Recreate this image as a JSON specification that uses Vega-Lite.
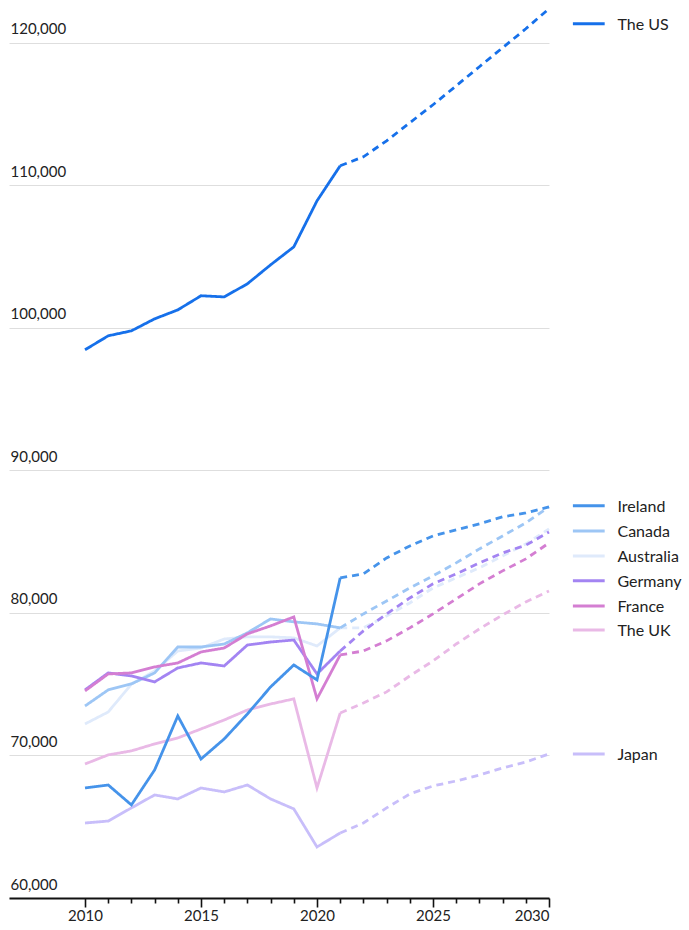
{
  "$schema": "https://vega.github.io/schema/vega-lite/v6.json",
  "width": 540,
  "height": 898,
  "autosize": {"type": "none"},
  "padding": {"left": 9, "top": 0, "right": 140, "bottom": 32},
  "config": {"view": {"stroke": null}, "font": "Lato"},
  "resolve": {"axis": {"x": "independent"}},
  "datasets": {
    "series": [
      {"c":"The US","year":2010,"v":98460,"s":"actual"},
      {"c":"The US","year":2011,"v":99440,"s":"actual"},
      {"c":"The US","year":2012,"v":99790,"s":"actual"},
      {"c":"The US","year":2013,"v":100630,"s":"actual"},
      {"c":"The US","year":2014,"v":101260,"s":"actual"},
      {"c":"The US","year":2015,"v":102250,"s":"actual"},
      {"c":"The US","year":2016,"v":102170,"s":"actual"},
      {"c":"The US","year":2017,"v":103090,"s":"actual"},
      {"c":"The US","year":2018,"v":104420,"s":"actual"},
      {"c":"The US","year":2019,"v":105680,"s":"actual"},
      {"c":"The US","year":2020,"v":108910,"s":"actual"},
      {"c":"The US","year":2021,"v":111370,"s":"actual"},
      {"c":"The US","year":2021,"v":111370,"s":"forecast"},
      {"c":"The US","year":2022,"v":112000,"s":"forecast"},
      {"c":"The US","year":2023,"v":113120,"s":"forecast"},
      {"c":"The US","year":2024,"v":114390,"s":"forecast"},
      {"c":"The US","year":2025,"v":115650,"s":"forecast"},
      {"c":"The US","year":2026,"v":116980,"s":"forecast"},
      {"c":"The US","year":2027,"v":118320,"s":"forecast"},
      {"c":"The US","year":2028,"v":119650,"s":"forecast"},
      {"c":"The US","year":2029,"v":120980,"s":"forecast"},
      {"c":"The US","year":2030,"v":122390,"s":"forecast"},

      {"c":"Japan","year":2010,"v":65260,"s":"actual"},
      {"c":"Japan","year":2011,"v":65400,"s":"actual"},
      {"c":"Japan","year":2012,"v":66320,"s":"actual"},
      {"c":"Japan","year":2013,"v":67230,"s":"actual"},
      {"c":"Japan","year":2014,"v":66950,"s":"actual"},
      {"c":"Japan","year":2015,"v":67720,"s":"actual"},
      {"c":"Japan","year":2016,"v":67440,"s":"actual"},
      {"c":"Japan","year":2017,"v":67930,"s":"actual"},
      {"c":"Japan","year":2018,"v":66950,"s":"actual"},
      {"c":"Japan","year":2019,"v":66250,"s":"actual"},
      {"c":"Japan","year":2020,"v":63580,"s":"actual"},
      {"c":"Japan","year":2021,"v":64560,"s":"actual"},
      {"c":"Japan","year":2021,"v":64560,"s":"forecast"},
      {"c":"Japan","year":2022,"v":65260,"s":"forecast"},
      {"c":"Japan","year":2023,"v":66320,"s":"forecast"},
      {"c":"Japan","year":2024,"v":67300,"s":"forecast"},
      {"c":"Japan","year":2025,"v":67860,"s":"forecast"},
      {"c":"Japan","year":2026,"v":68210,"s":"forecast"},
      {"c":"Japan","year":2027,"v":68630,"s":"forecast"},
      {"c":"Japan","year":2028,"v":69120,"s":"forecast"},
      {"c":"Japan","year":2029,"v":69540,"s":"forecast"},
      {"c":"Japan","year":2030,"v":70110,"s":"forecast"},

      {"c":"The UK","year":2010,"v":69400,"s":"actual"},
      {"c":"The UK","year":2011,"v":70040,"s":"actual"},
      {"c":"The UK","year":2012,"v":70320,"s":"actual"},
      {"c":"The UK","year":2013,"v":70810,"s":"actual"},
      {"c":"The UK","year":2014,"v":71230,"s":"actual"},
      {"c":"The UK","year":2015,"v":71860,"s":"actual"},
      {"c":"The UK","year":2016,"v":72490,"s":"actual"},
      {"c":"The UK","year":2017,"v":73190,"s":"actual"},
      {"c":"The UK","year":2018,"v":73610,"s":"actual"},
      {"c":"The UK","year":2019,"v":73970,"s":"actual"},
      {"c":"The UK","year":2020,"v":67720,"s":"actual"},
      {"c":"The UK","year":2021,"v":72980,"s":"actual"},
      {"c":"The UK","year":2021,"v":72980,"s":"forecast"},
      {"c":"The UK","year":2022,"v":73680,"s":"forecast"},
      {"c":"The UK","year":2023,"v":74460,"s":"forecast"},
      {"c":"The UK","year":2024,"v":75580,"s":"forecast"},
      {"c":"The UK","year":2025,"v":76630,"s":"forecast"},
      {"c":"The UK","year":2026,"v":77820,"s":"forecast"},
      {"c":"The UK","year":2027,"v":78880,"s":"forecast"},
      {"c":"The UK","year":2028,"v":79860,"s":"forecast"},
      {"c":"The UK","year":2029,"v":80770,"s":"forecast"},
      {"c":"The UK","year":2030,"v":81540,"s":"forecast"},

      {"c":"Australia","year":2010,"v":72210,"s":"actual"},
      {"c":"Australia","year":2011,"v":73050,"s":"actual"},
      {"c":"Australia","year":2012,"v":75000,"s":"actual"},
      {"c":"Australia","year":2013,"v":75930,"s":"actual"},
      {"c":"Australia","year":2014,"v":77330,"s":"actual"},
      {"c":"Australia","year":2015,"v":77540,"s":"actual"},
      {"c":"Australia","year":2016,"v":78170,"s":"actual"},
      {"c":"Australia","year":2017,"v":78320,"s":"actual"},
      {"c":"Australia","year":2018,"v":78320,"s":"actual"},
      {"c":"Australia","year":2019,"v":78250,"s":"actual"},
      {"c":"Australia","year":2020,"v":77680,"s":"actual"},
      {"c":"Australia","year":2021,"v":78950,"s":"actual"},
      {"c":"Australia","year":2021,"v":78950,"s":"forecast"},
      {"c":"Australia","year":2022,"v":78950,"s":"forecast"},
      {"c":"Australia","year":2023,"v":79790,"s":"forecast"},
      {"c":"Australia","year":2024,"v":80700,"s":"forecast"},
      {"c":"Australia","year":2025,"v":81750,"s":"forecast"},
      {"c":"Australia","year":2026,"v":82460,"s":"forecast"},
      {"c":"Australia","year":2027,"v":83160,"s":"forecast"},
      {"c":"Australia","year":2028,"v":84000,"s":"forecast"},
      {"c":"Australia","year":2029,"v":84840,"s":"forecast"},
      {"c":"Australia","year":2030,"v":85900,"s":"forecast"},

      {"c":"Canada","year":2010,"v":73470,"s":"actual"},
      {"c":"Canada","year":2011,"v":74600,"s":"actual"},
      {"c":"Canada","year":2012,"v":75020,"s":"actual"},
      {"c":"Canada","year":2013,"v":75790,"s":"actual"},
      {"c":"Canada","year":2014,"v":77610,"s":"actual"},
      {"c":"Canada","year":2015,"v":77610,"s":"actual"},
      {"c":"Canada","year":2016,"v":77820,"s":"actual"},
      {"c":"Canada","year":2017,"v":78600,"s":"actual"},
      {"c":"Canada","year":2018,"v":79580,"s":"actual"},
      {"c":"Canada","year":2019,"v":79370,"s":"actual"},
      {"c":"Canada","year":2020,"v":79230,"s":"actual"},
      {"c":"Canada","year":2021,"v":78950,"s":"actual"},
      {"c":"Canada","year":2021,"v":78950,"s":"forecast"},
      {"c":"Canada","year":2022,"v":79930,"s":"forecast"},
      {"c":"Canada","year":2023,"v":80840,"s":"forecast"},
      {"c":"Canada","year":2024,"v":81750,"s":"forecast"},
      {"c":"Canada","year":2025,"v":82600,"s":"forecast"},
      {"c":"Canada","year":2026,"v":83510,"s":"forecast"},
      {"c":"Canada","year":2027,"v":84490,"s":"forecast"},
      {"c":"Canada","year":2028,"v":85400,"s":"forecast"},
      {"c":"Canada","year":2029,"v":86320,"s":"forecast"},
      {"c":"Canada","year":2030,"v":87440,"s":"forecast"},

      {"c":"Germany","year":2010,"v":74600,"s":"actual"},
      {"c":"Germany","year":2011,"v":75790,"s":"actual"},
      {"c":"Germany","year":2012,"v":75580,"s":"actual"},
      {"c":"Germany","year":2013,"v":75160,"s":"actual"},
      {"c":"Germany","year":2014,"v":76140,"s":"actual"},
      {"c":"Germany","year":2015,"v":76490,"s":"actual"},
      {"c":"Germany","year":2016,"v":76280,"s":"actual"},
      {"c":"Germany","year":2017,"v":77750,"s":"actual"},
      {"c":"Germany","year":2018,"v":77960,"s":"actual"},
      {"c":"Germany","year":2019,"v":78100,"s":"actual"},
      {"c":"Germany","year":2020,"v":75720,"s":"actual"},
      {"c":"Germany","year":2021,"v":77330,"s":"actual"},
      {"c":"Germany","year":2021,"v":77330,"s":"forecast"},
      {"c":"Germany","year":2022,"v":78740,"s":"forecast"},
      {"c":"Germany","year":2023,"v":79930,"s":"forecast"},
      {"c":"Germany","year":2024,"v":81050,"s":"forecast"},
      {"c":"Germany","year":2025,"v":82040,"s":"forecast"},
      {"c":"Germany","year":2026,"v":82740,"s":"forecast"},
      {"c":"Germany","year":2027,"v":83510,"s":"forecast"},
      {"c":"Germany","year":2028,"v":84210,"s":"forecast"},
      {"c":"Germany","year":2029,"v":84750,"s":"forecast"},
      {"c":"Germany","year":2030,"v":85680,"s":"forecast"},

      {"c":"France","year":2010,"v":74530,"s":"actual"},
      {"c":"France","year":2011,"v":75720,"s":"actual"},
      {"c":"France","year":2012,"v":75790,"s":"actual"},
      {"c":"France","year":2013,"v":76210,"s":"actual"},
      {"c":"France","year":2014,"v":76490,"s":"actual"},
      {"c":"France","year":2015,"v":77260,"s":"actual"},
      {"c":"France","year":2016,"v":77540,"s":"actual"},
      {"c":"France","year":2017,"v":78530,"s":"actual"},
      {"c":"France","year":2018,"v":79090,"s":"actual"},
      {"c":"France","year":2019,"v":79720,"s":"actual"},
      {"c":"France","year":2020,"v":73970,"s":"actual"},
      {"c":"France","year":2021,"v":77050,"s":"actual"},
      {"c":"France","year":2021,"v":77050,"s":"forecast"},
      {"c":"France","year":2022,"v":77330,"s":"forecast"},
      {"c":"France","year":2023,"v":78040,"s":"forecast"},
      {"c":"France","year":2024,"v":78950,"s":"forecast"},
      {"c":"France","year":2025,"v":79930,"s":"forecast"},
      {"c":"France","year":2026,"v":80980,"s":"forecast"},
      {"c":"France","year":2027,"v":82040,"s":"forecast"},
      {"c":"France","year":2028,"v":82950,"s":"forecast"},
      {"c":"France","year":2029,"v":83790,"s":"forecast"},
      {"c":"France","year":2030,"v":84910,"s":"forecast"},

      {"c":"Ireland","year":2010,"v":67720,"s":"actual"},
      {"c":"Ireland","year":2011,"v":67930,"s":"actual"},
      {"c":"Ireland","year":2012,"v":66530,"s":"actual"},
      {"c":"Ireland","year":2013,"v":68980,"s":"actual"},
      {"c":"Ireland","year":2014,"v":72770,"s":"actual"},
      {"c":"Ireland","year":2015,"v":69750,"s":"actual"},
      {"c":"Ireland","year":2016,"v":71160,"s":"actual"},
      {"c":"Ireland","year":2017,"v":72910,"s":"actual"},
      {"c":"Ireland","year":2018,"v":74810,"s":"actual"},
      {"c":"Ireland","year":2019,"v":76350,"s":"actual"},
      {"c":"Ireland","year":2020,"v":75300,"s":"actual"},
      {"c":"Ireland","year":2021,"v":82460,"s":"actual"},
      {"c":"Ireland","year":2021,"v":82460,"s":"forecast"},
      {"c":"Ireland","year":2022,"v":82740,"s":"forecast"},
      {"c":"Ireland","year":2023,"v":83860,"s":"forecast"},
      {"c":"Ireland","year":2024,"v":84700,"s":"forecast"},
      {"c":"Ireland","year":2025,"v":85400,"s":"forecast"},
      {"c":"Ireland","year":2026,"v":85820,"s":"forecast"},
      {"c":"Ireland","year":2027,"v":86250,"s":"forecast"},
      {"c":"Ireland","year":2028,"v":86740,"s":"forecast"},
      {"c":"Ireland","year":2029,"v":87020,"s":"forecast"},
      {"c":"Ireland","year":2030,"v":87440,"s":"forecast"}
    ],
    "legend": [
      {"c":"The US","ly":121330},
      {"c":"Ireland","ly":87510},
      {"c":"Canada","ly":85750},
      {"c":"Australia","ly":84000},
      {"c":"Germany","ly":82250},
      {"c":"France","ly":80490},
      {"c":"The UK","ly":78810},
      {"c":"Japan","ly":70110}
    ]
  },
  "layer": [
    {
      "data": {"name": "series"},
      "mark": {"type": "line", "strokeWidth": 2.8, "strokeCap": "butt", "strokeJoin": "miter"},
      "encoding": {
        "x": {
          "field": "year", "type": "quantitative",
          "scale": {"domain": [2006.724, 2030], "nice": false, "zero": false},
          "axis": {
            "orient": "bottom",
            "title": null,
            "values": [2010, 2015, 2020, 2025, 2030],
            "format": "d",
            "labelFontSize": 15,
            "labelColor": "#222",
            "labelPadding": 1,
            "grid": false,
            "domain": true,
            "domainColor": "#111",
            "domainWidth": 2,
            "ticks": true,
            "tickColor": "#111",
            "tickWidth": 1.6,
            "tickSize": 9
          }
        },
        "y": {
          "field": "v", "type": "quantitative",
          "scale": {"domain": [60000, 123000], "nice": false, "zero": false},
          "axis": {
            "title": null,
            "values": [60000,70000,80000,90000,100000,110000,120000],
            "format": ",d",
            "grid": true,
            "gridColor": "#dedede",
            "gridWidth": 1,
            "domain": false,
            "ticks": false,
            "tickSize": 0,
            "labelAlign": "left",
            "labelBaseline": "alphabetic",
            "labelPadding": -1,
            "labelOffset": -9,
            "labelFontSize": 15,
            "labelColor": "#222"
          }
        },
        "color": {
          "field": "c", "type": "nominal",
          "scale": {
            "domain": ["The US","Ireland","Canada","Australia","Germany","France","The UK","Japan"],
            "range": ["#1670ea","#4593ea","#9dc6f5","#dfeafb","#a384f2","#d47ed2","#e9b9e6","#c8befa"]
          },
          "legend": null
        },
        "strokeDash": {
          "field": "s", "type": "nominal",
          "scale": {"domain": ["actual","forecast"], "range": [[1,0],[7,5]]},
          "legend": null
        }
      }
    },
    {
      "data": {"name": "legend"},
      "mark": {"type": "rule", "strokeWidth": 3},
      "encoding": {
        "x": {
          "datum": 2031.03, "type": "quantitative",
          "axis": {
            "orient": "bottom",
            "title": null,
            "values": [2011,2012,2013,2014,2016,2017,2018,2019,2021,2022,2023,2024,2026,2027,2028,2029],
            "labels": false,
            "grid": false,
            "domain": false,
            "ticks": true,
            "tickColor": "#111",
            "tickWidth": 1.6,
            "tickSize": 5
          }
        },
        "x2": {"datum": 2032.4},
        "y": {"field": "ly", "type": "quantitative"},
        "color": {"field": "c", "type": "nominal", "legend": null}
      }
    },
    {
      "data": {"name": "legend"},
      "mark": {"type": "text", "align": "left", "baseline": "middle", "fontSize": 16, "color": "#222", "dy": 1},
      "encoding": {
        "x": {"datum": 2032.95, "type": "quantitative", "axis": null},
        "y": {"field": "ly", "type": "quantitative"},
        "text": {"field": "c"}
      }
    }
  ]
}
